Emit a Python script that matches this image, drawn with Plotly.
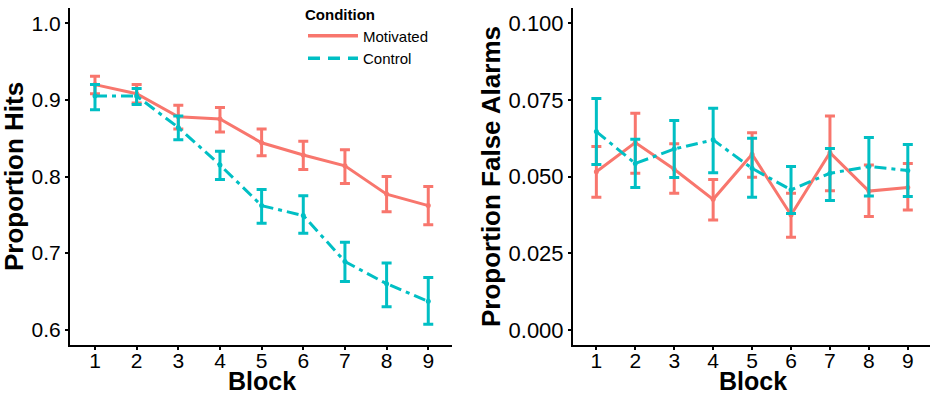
import plotly.graph_objects as go

blocks = [1, 2, 3, 4, 5, 6, 7, 8, 9]

# Proportion Hits
hits_mot = [0.920, 0.908, 0.878, 0.875, 0.844, 0.828, 0.814, 0.777, 0.762]
hits_mot_hi = [0.931, 0.920, 0.893, 0.890, 0.862, 0.846, 0.835, 0.800, 0.787]
hits_mot_lo = [0.908, 0.896, 0.862, 0.858, 0.827, 0.809, 0.791, 0.754, 0.737]
hits_con = [0.905, 0.905, 0.864, 0.815, 0.762, 0.749, 0.689, 0.660, 0.637]
hits_con_hi = [0.920, 0.915, 0.879, 0.833, 0.783, 0.775, 0.714, 0.687, 0.668]
hits_con_lo = [0.887, 0.894, 0.848, 0.796, 0.739, 0.726, 0.663, 0.630, 0.607]

# Proportion False Alarms
fa_mot = [0.0516, 0.0611, 0.0524, 0.0426, 0.0573, 0.0375, 0.0578, 0.0453, 0.0465]
fa_mot_hi = [0.0598, 0.0707, 0.0607, 0.0491, 0.0643, 0.0446, 0.0698, 0.0538, 0.0543]
fa_mot_lo = [0.0433, 0.0511, 0.0446, 0.0359, 0.0498, 0.0302, 0.0454, 0.0370, 0.0391]
fa_con = [0.0647, 0.0543, 0.0590, 0.0620, 0.0527, 0.0457, 0.0511, 0.0533, 0.0520]
fa_con_hi = [0.0755, 0.0622, 0.0683, 0.0723, 0.0625, 0.0533, 0.0592, 0.0628, 0.0605]
fa_con_lo = [0.0540, 0.0465, 0.0497, 0.0513, 0.0433, 0.0380, 0.0422, 0.0437, 0.0435]

hits_ticks = [0.6, 0.7, 0.8, 0.9, 1.0]
hits_ticklabels = ["0.6", "0.7", "0.8", "0.9", "1.0"]
fa_ticks = [0.0, 0.025, 0.05, 0.075, 0.1]
fa_ticklabels = ["0.000", "0.025", "0.050", "0.075", "0.100"]

RED = "#F8766D"
TEAL = "#00BFC4"
CON_DASH = "12px,5px,4px,5px"
FONT = "Liberation Sans, Arial, sans-serif"
W, H = 935, 397


def fx(px):
    return px / W


def fy(py):
    return 1 - py / H


def err(vals, hi, lo, color):
    return dict(type="data", symmetric=False,
                array=[h - v for h, v in zip(hi, vals)],
                arrayminus=[v - l for v, l in zip(vals, lo)],
                color=color, thickness=3, width=5)


fig = go.Figure()
series = [
    ("x", "y", hits_mot, hits_mot_hi, hits_mot_lo, RED, "solid"),
    ("x", "y", hits_con, hits_con_hi, hits_con_lo, TEAL, CON_DASH),
    ("x2", "y2", fa_mot, fa_mot_hi, fa_mot_lo, RED, "solid"),
    ("x2", "y2", fa_con, fa_con_hi, fa_con_lo, TEAL, CON_DASH),
]
for xa, ya, vals, hi, lo, col, dash in series:
    fig.add_trace(go.Scatter(x=blocks, y=vals, mode="lines+markers", showlegend=False,
                             line=dict(color=col, width=3, dash=dash),
                             marker=dict(size=5, color=col),
                             error_y=err(vals, hi, lo, col), xaxis=xa, yaxis=ya))

# legend entries (lines only, as in the reference key)
fig.add_trace(go.Scatter(x=[None], y=[None], mode="lines", name="Motivated",
                         line=dict(color=RED, width=3.5)))
fig.add_trace(go.Scatter(x=[None], y=[None], mode="lines", name="Control",
                         line=dict(color=TEAL, width=3.5, dash="12px,8px")))

axis_common = dict(showline=True, linecolor="black", linewidth=2, showgrid=False, zeroline=False,
                   ticks="outside", ticklen=3, tickwidth=1.5, tickcolor="black", automargin=False)

fig.update_layout(
    width=W, height=H,
    margin=dict(l=0, r=0, t=0, b=0),
    plot_bgcolor="white", paper_bgcolor="white",
    font=dict(family=FONT, color="black"),
    xaxis=dict(domain=[fx(70), fx(452)], range=[0.4, 9.57], tickvals=blocks, anchor="y",
               ticklabelstandoff=-7,
               tickfont=dict(size=21, color="black", family=FONT), **axis_common),
    yaxis=dict(domain=[fy(345), fy(8)], range=[0.58, 1.02], tickvals=hits_ticks, ticktext=hits_ticklabels,
               anchor="x", tickfont=dict(size=21, color="black", family=FONT), **axis_common),
    xaxis2=dict(domain=[fx(573), fx(930)], range=[0.4, 9.57], tickvals=blocks, anchor="y2",
                ticklabelstandoff=-7,
                tickfont=dict(size=21, color="black", family=FONT), **axis_common),
    yaxis2=dict(domain=[fy(345), fy(8)], range=[-0.0049, 0.105], tickvals=fa_ticks, ticktext=fa_ticklabels,
                anchor="x2", tickfont=dict(size=22, color="black", family=FONT), **axis_common),
    showlegend=True,
    legend=dict(x=fx(303), y=fy(0), xanchor="left", yanchor="top",
                bgcolor="rgba(0,0,0,0)", font=dict(size=15, color="black", family=FONT),
                title=dict(text="<b>Condition</b>", font=dict(size=15, color="black", family=FONT)),
                itemwidth=50, tracegroupgap=4),
)

annotations = [
    dict(text="<b>Proportion Hits</b>", x=fx(14), y=fy(177), textangle=-90,
         font=dict(size=26, color="black", family=FONT)),
    dict(text="<b>Proportion False Alarms</b>", x=fx(491), y=fy(177), textangle=-90,
         font=dict(size=26, color="black", family=FONT)),
    dict(text="<b>Block</b>", x=fx(262), y=fy(381),
         font=dict(size=25, color="black", family=FONT)),
    dict(text="<b>Block</b>", x=fx(753), y=fy(381),
         font=dict(size=25, color="black", family=FONT)),
]
for a in annotations:
    a.update(xref="paper", yref="paper", showarrow=False, xanchor="center", yanchor="middle")
fig.update_layout(annotations=annotations)

fig.write_html("out.html", config={"displayModeBar": False},
               post_script="document.body.style.margin='0';document.body.style.overflow='hidden';")
